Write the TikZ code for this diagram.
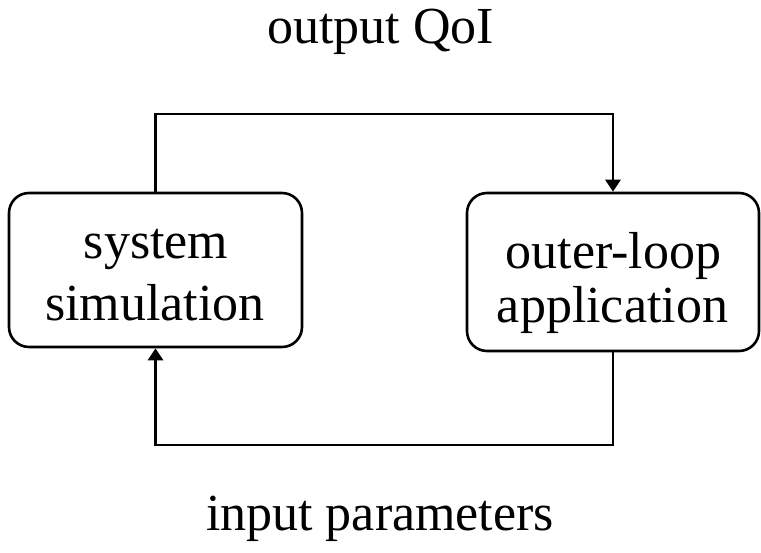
\documentclass[tikz,border=0pt]{standalone}
\usepackage{fontspec}
\setmainfont{Liberation Serif}
\usetikzlibrary{arrows.meta}
\begin{document}
\begin{tikzpicture}[x=0.5pt,y=-0.5pt,
  box/.style={draw,line width=1.3pt,rounded corners=10pt,inner sep=0pt},
  lbl/.style={anchor=base,inner sep=0pt,font=\fontsize{26}{31}\selectfont},
  conn/.style={line width=1.4pt,-{Triangle[length=6pt,width=7.5pt]}}]
\useasboundingbox (0,0) rectangle (761,552);
\node[box,minimum width=146.5pt,minimum height=77pt] (sim) at (155.5,270) {};
\node[box,minimum width=146pt,minimum height=79pt] (app) at (613,272) {};
\node[lbl] (t1) at (156,258) {system};
\node[lbl] (t2) at (155,320) {simulation};
\node[lbl] (t3) at (613.5,268) {outer-loop};
\node[lbl] (t4) at (612.5,322) {application};
\node[lbl] (out) at (380.5,43) {output QoI};
\node[lbl] (in) at (380,530) {input parameters};
\coordinate (top) at (380,114);
\coordinate (bot) at (380,445);
\draw[conn] (sim.north) |- (top) -| (app.north);
\draw[conn] (app.south) |- (bot) -| (sim.south);
\end{tikzpicture}
\end{document}
